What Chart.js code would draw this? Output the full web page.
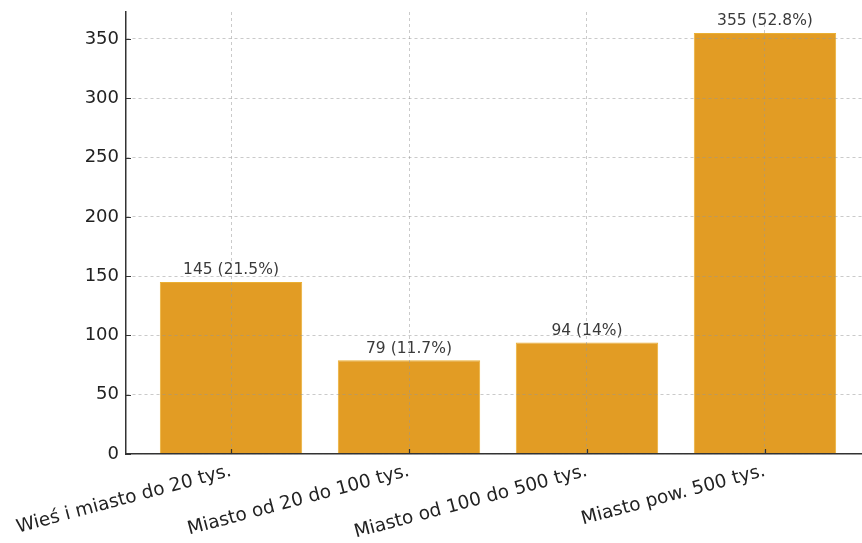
<!DOCTYPE html>
<html>
<head>
<meta charset="utf-8">
<script src="https://cdn.jsdelivr.net/npm/chart.js@4"></script>
<style>
  html, body { margin: 0; padding: 0; background: #fff; overflow: hidden; }
  #wrap { width: 880px; height: 543px; }
</style>
</head>
<body>
<div id="wrap"><canvas id="myChart" width="880" height="543"></canvas></div>
<script>
const categories = ['Wieś i miasto do 20 tys.', 'Miasto od 20 do 100 tys.', 'Miasto od 100 do 500 tys.', 'Miasto pow. 500 tys.'];
const counts = [145, 79, 94, 355];
const percents = ['21.5', '11.7', '14', '52.8'];
const yTicks = [0, 50, 100, 150, 200, 250, 300, 350];

const FONT = "'DejaVu Sans', sans-serif";
const AXIS = '#333333';

let ctx = document.getElementById('myChart').getContext('2d');

/** value labels above the bars */
const barLabels = {
  id: 'barLabels',
  afterDatasetsDraw(chart) {
    const c = chart.ctx;
    const meta = chart.getDatasetMeta(0);
    c.save();
    c.font = '15.5px ' + FONT;
    c.fillStyle = '#3a3a3a';
    c.textAlign = 'center';
    c.textBaseline = 'bottom';
    meta.data.forEach((bar, i) => {
      c.fillText(counts[i] + ' (' + percents[i] + '%)', bar.x, bar.y - 4);
    });
    c.restore();
  }
};

/** short tick marks pointing into the plot */
const innerTicks = {
  id: 'innerTicks',
  afterDraw(chart) {
    const c = chart.ctx;
    const x = chart.scales.x, y = chart.scales.y;
    c.save();
    c.strokeStyle = AXIS;
    c.lineWidth = 1.2;
    c.beginPath();
    y.ticks.forEach(t => {
      const py = Math.round(y.getPixelForValue(t.value)) + 0.5;
      c.moveTo(x.left, py);
      c.lineTo(x.left + 5, py);
    });
    x.ticks.forEach(t => {
      const px = Math.round(x.getPixelForValue(t.value)) + 0.5;
      c.moveTo(px, y.bottom);
      c.lineTo(px, y.bottom - 5);
    });
    c.stroke();
    c.restore();
  }
};

const data = {
  datasets: [{
    data: counts.map((v, i) => ({ x: i, y: v })),
    backgroundColor: '#e29c24',
    borderColor: '#ebb034',
    borderWidth: 1,
    barPercentage: 0.8,
    categoryPercentage: 1.0
  }]
};

const config = {
  type: 'bar',
  data: data,
  options: {
    responsive: false,
    animation: false,
    layout: { padding: { left: 0, right: 10, top: 12, bottom: 0 } },
    plugins: {
      legend: { display: false },
      tooltip: { enabled: false }
    },
    scales: {
      x: {
        type: 'linear',
        min: -0.59,
        max: 3.59,
        offset: false,
        afterBuildTicks: (s) => { s.ticks = categories.map((c, i) => ({ value: i })); },
        afterFit: (s) => { s.height = 89; s.paddingLeft = 0; s.paddingRight = 0; },
        grid: {
          z: 1,
          offset: false,
          color: 'rgba(150,150,150,0.5)',
          lineWidth: 1,
          drawTicks: false
        },
        border: { display: true, z: 1, color: AXIS, width: 1.5, dash: [3, 3] },
        ticks: {
          autoSkip: false,
          minRotation: 15,
          maxRotation: 15,
          padding: 6,
          color: '#222',
          font: { family: FONT, size: 18.5 },
          callback: (v) => categories[v]
        }
      },
      y: {
        min: 0,
        max: 372.75,
        afterBuildTicks: (s) => { s.ticks = yTicks.map(v => ({ value: v })); },
        afterFit: (s) => { s.width = 126; s.paddingTop = 0; s.paddingBottom = 0; },
        grid: {
          z: 1,
          color: 'rgba(150,150,150,0.5)',
          lineWidth: 1,
          drawTicks: false
        },
        border: { display: true, z: 1, color: AXIS, width: 1.5, dash: [3, 3] },
        ticks: {
          padding: 7,
          color: '#222',
          font: { family: FONT, size: 18 }
        }
      }
    }
  },
  plugins: [barLabels, innerTicks]
};

let chart = new Chart(ctx, config);
</script>
</body>
</html>
